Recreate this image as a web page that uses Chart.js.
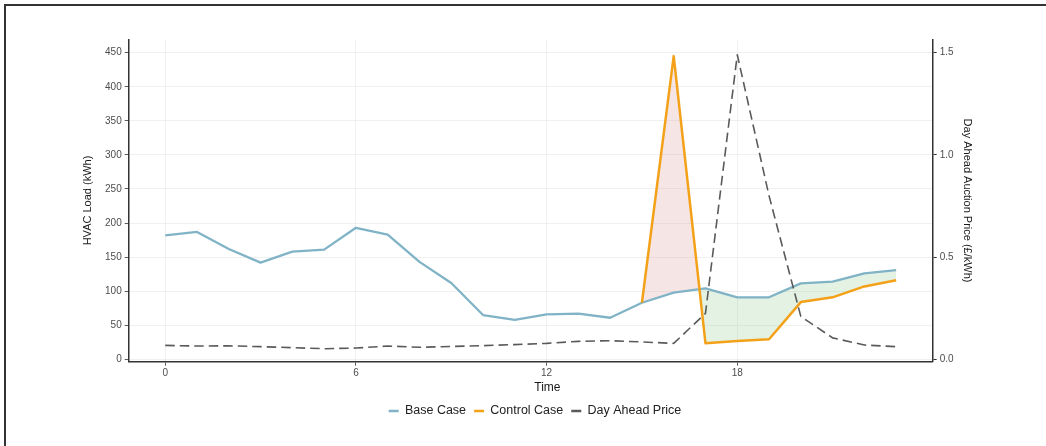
<!DOCTYPE html>
<html>
<head>
<meta charset="utf-8">
<script src="https://cdn.jsdelivr.net/npm/chart.js@4.4.1/dist/chart.umd.min.js"></script>
<style>
  html, body { margin: 0; padding: 0; background: #ffffff; }
  #wrap { position: relative; width: 1046px; height: 446px; overflow: hidden; }
  #frame { position: absolute; left: 4px; top: 4px; width: 1100px; height: 500px;
           border-left: 2px solid #333; border-top: 2px solid #333; pointer-events: none; }
</style>
</head>
<body>
<div id="wrap">
  <canvas id="c" width="1046" height="446"></canvas>
  <div id="frame"></div>
</div>
<script>
// ---- data ----
const hours = [0,1,2,3,4,5,6,7,8,9,10,11,12,13,14,15,16,17,18,19,20,21,22,23];
const baseCase = [182, 187, 162, 142, 158, 161, 193, 183, 143, 112, 65, 58, 66, 67, 61, 83, 98, 104, 91, 91, 111.5, 114, 126, 131];
const controlCase = [null,null,null,null,null,null,null,null,null,null,null,null,null,null,null, 83, 445, 23.5, 27, 29.5, 84, 91, 107, 116];
const dayAheadPrice = [0.068, 0.065, 0.066, 0.062, 0.057, 0.052, 0.055, 0.065, 0.059, 0.063, 0.067, 0.072, 0.078, 0.088, 0.091, 0.085, 0.078, 0.225, 1.49, 0.80, 0.21, 0.105, 0.07, 0.062];
const xTicks = [0, 6, 12, 18];
const loadTicks = [0, 50, 100, 150, 200, 250, 300, 350, 400, 450];
const priceTicks = [0, 0.5, 1.0, 1.5];
const seriesNames = ['Base Case', 'Control Case', 'Day Ahead Price'];

const toPts = (arr) => hours.map((h, i) => ({ x: h, y: arr[i] }));

Chart.defaults.font.family = "'Liberation Sans', Arial, sans-serif";

const LOAD_MIN = -3.5, LOAD_MAX = 469.7, PRICE_PER_LOAD = 1 / 300;

new Chart(document.getElementById('c'), {
  type: 'line',
  data: {
    datasets: [
      { label: seriesNames[0], data: toPts(baseCase), yAxisID: 'y',
        borderColor: '#80b3c6', backgroundColor: '#80b3c6', borderWidth: 2.3,
        borderJoinStyle: 'round', pointRadius: 0, tension: 0, fill: false, order: 2 },
      { label: seriesNames[1], data: toPts(controlCase), yAxisID: 'y',
        borderColor: '#f4a11a', backgroundColor: '#f4a11a', borderWidth: 2.5,
        borderJoinStyle: 'round', pointRadius: 0, tension: 0, spanGaps: false, order: 1,
        fill: { target: 0, above: 'rgba(220,160,160,0.28)', below: 'rgba(150,205,150,0.26)' } },
      { label: seriesNames[2], data: toPts(dayAheadPrice), yAxisID: 'y1',
        borderColor: '#5a5a5a', backgroundColor: '#5a5a5a', borderWidth: 1.6,
        borderDash: [9.5, 5], borderJoinStyle: 'round', pointRadius: 0, tension: 0, fill: false, order: 0 }
    ]
  },
  options: {
    responsive: false,
    animation: false,
    devicePixelRatio: 1,
    layout: { padding: { left: 80, right: 56, top: 39.3, bottom: 18.75 } },
    plugins: {
      filler: { drawTime: 'beforeDatasetsDraw', propagate: false },
      tooltip: { enabled: false },
      legend: {
        position: 'bottom',
        labels: {
          boxWidth: 10, boxHeight: 2.5, padding: 8, color: '#222',
          font: { size: 12.5 },
          sort: (a, b) => a.datasetIndex - b.datasetIndex,
          generateLabels(chart) {
            const items = Chart.defaults.plugins.legend.labels.generateLabels(chart);
            items.forEach(it => {
              const ds = chart.data.datasets[it.datasetIndex];
              it.fillStyle = ds.borderColor; it.strokeStyle = ds.borderColor;
              it.lineWidth = 0; it.lineDash = [];
            });
            return items;
          }
        }
      }
    },
    scales: {
      x: {
        type: 'linear', min: -1.15, max: 24.15,
        afterBuildTicks: (s) => { s.ticks = xTicks.map(v => ({ value: v })); },
        afterFit: (s) => { s.height = 35.05; },
        grid: { color: '#ececec', lineWidth: 0.8, tickColor: '#333', tickLength: 4 },
        border: { display: true, color: '#333', width: 1.5 },
        ticks: { color: '#4d4d4d', font: { size: 10 }, padding: 2, maxRotation: 0 },
        title: { display: true, text: '          Time', color: '#1a1a1a', font: { size: 12 }, padding: { top: 0, bottom: 1.65 } }
      },
      y: {
        type: 'linear', position: 'left', min: LOAD_MIN, max: LOAD_MAX,
        afterBuildTicks: (s) => { s.ticks = loadTicks.map(v => ({ value: v })); },
        afterFit: (s) => { s.width = 48.7; },
        grid: { color: '#ececec', lineWidth: 0.8, tickColor: '#333', tickLength: 4 },
        border: { display: true, color: '#333', width: 1.5 },
        ticks: { color: '#4d4d4d', font: { size: 10 }, padding: 3 },
        title: { display: true, text: 'HVAC Load (kWh)', color: '#1a1a1a', font: { size: 11 }, padding: { top: 1.7, bottom: 0 } }
      },
      y1: {
        type: 'linear', position: 'right', min: LOAD_MIN * PRICE_PER_LOAD, max: LOAD_MAX * PRICE_PER_LOAD,
        afterBuildTicks: (s) => { s.ticks = priceTicks.map(v => ({ value: v })); },
        afterFit: (s) => { s.width = 57.3; },
        grid: { drawOnChartArea: false, tickColor: '#333', tickLength: 4 },
        border: { display: true, color: '#333', width: 1.5 },
        ticks: { color: '#4d4d4d', font: { size: 10 }, padding: 3, callback: (v) => Number(v).toFixed(1) },
        title: { display: true, text: 'Day Ahead Auction Price (£/kWh)', color: '#1a1a1a', font: { size: 11 }, padding: { top: 16.4, bottom: 0 } }
      }
    }
  }
});
</script>
</body>
</html>
